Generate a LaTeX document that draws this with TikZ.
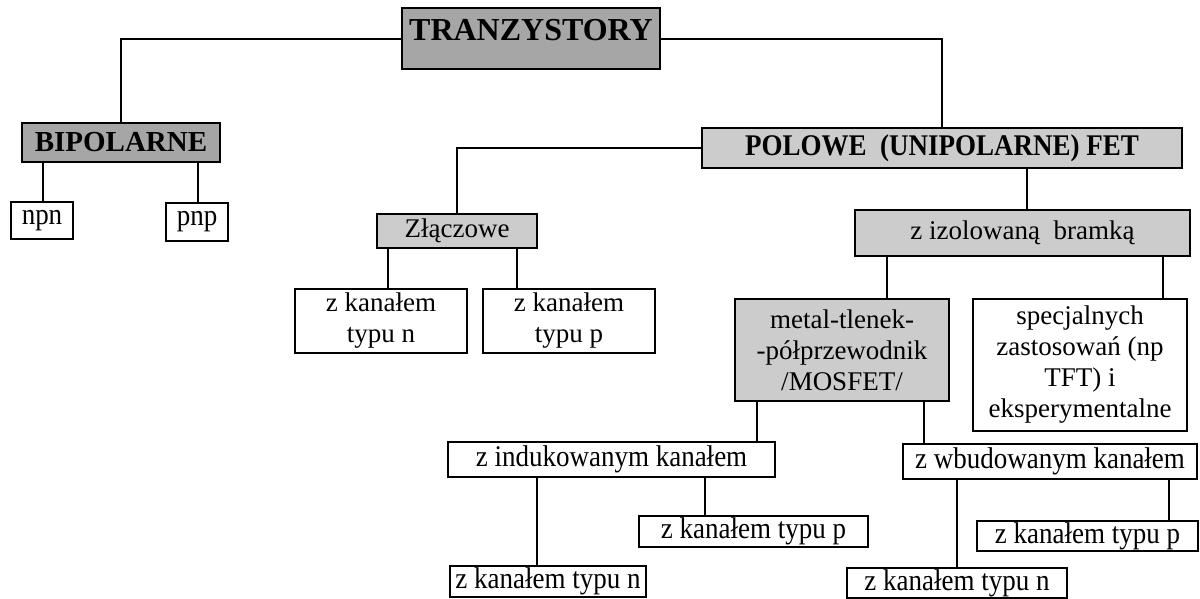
\documentclass[tikz,border=0pt]{standalone}
\usepackage{fontspec}
\setmainfont{Liberation Serif}
\newfontfamily\narrowfont[FakeStretch=0.9]{Liberation Serif}

\begin{document}
\begin{tikzpicture}[
x=1pt, y=-1pt,
box/.style={draw, line width=2pt, inner sep=0pt, align=center},
darkbox/.style={box, fill=black!35},
lightbox/.style={box, fill=black!20},
headfont/.style={font=\fontsize{32}{36}\selectfont\bfseries},
boldfont/.style={font=\fontsize{29}{33}\selectfont\bfseries},
polfont/.style={font=\narrowfont\fontsize{30}{34}\selectfont\bfseries},
plainfont/.style={font=\fontsize{27}{31}\selectfont},
narrowtext/.style={font=\narrowfont\fontsize{30}{34}\selectfont},
link/.style={line width=2pt}
]
\useasboundingbox (0,0) rectangle (1200,598);

% top levels
\node[darkbox, headfont, minimum width=258pt, text height=32pt, text depth=29pt] (tr) at (531,38.5) {TRANZYSTORY};
\node[darkbox, boldfont, minimum width=198pt, minimum height=39pt] (bip) at (121,142.5) {BIPOLARNE};
\node[lightbox, polfont, minimum width=480pt, minimum height=40pt] (pol) at (942,148) {POLOWE~~(UNIPOLARNE) FET};

% bipolar
\node[box, narrowtext, minimum width=62pt, minimum height=37pt] (npn) at (42,220.5) {npn};
\node[box, narrowtext, minimum width=62pt, minimum height=38pt] (pnp) at (197,222) {pnp};

% junction FET
\node[lightbox, plainfont, minimum width=160pt, minimum height=34pt] (zl) at (457,231) {Złączowe};
\node[box, plainfont, minimum width=172pt, minimum height=64pt] (kn) at (381,321) {z kanałem\\typu n};
\node[box, plainfont, minimum width=172pt, minimum height=64pt] (kp) at (569,321) {z kanałem\\typu p};

% insulated gate
\node[lightbox, plainfont, minimum width=335pt, minimum height=46pt] (izol) at (1022.5,233) {z izolowaną~~bramką};
\node[lightbox, plainfont, minimum width=214pt, minimum height=102pt] (mos) at (842,350) {metal-tlenek-\\-półprzewodnik\\/MOSFET/};
\node[box, plainfont, minimum width=214pt, minimum height=132pt] (spec) at (1080,365) {specjalnych\\zastosowań (np\\TFT) i\\eksperymentalne};

% MOSFET kinds
\node[box, narrowtext, minimum width=327pt, minimum height=35pt] (ind) at (611.5,459.5) {z indukowanym kanałem};
\node[box, narrowtext, minimum width=294pt, minimum height=35pt] (wbu) at (1050,461.5) {z wbudowanym kanałem};
\node[box, narrowtext, minimum width=229pt, minimum height=31pt] (indp) at (753.5,531.5) {z kanałem typu p};
\node[box, narrowtext, minimum width=196pt, minimum height=31pt] (indn) at (548,581.5) {z kanałem typu n};
\node[box, narrowtext, minimum width=221pt, minimum height=30pt] (wbup) at (1087.5,536) {z kanałem typu p};
\node[box, narrowtext, minimum width=220pt, minimum height=30pt] (wbun) at (957,583) {z kanałem typu n};

% connectors
\draw[link] (tr.west) -| (bip.north);
\draw[link] (tr.east) -| (pol.north);
\draw[link] (43,0 |- bip.south) -- (43,0 |- npn.north);
\draw[link] (198,0 |- bip.south) -- (198,0 |- pnp.north);
\draw[link] (pol.west) -| (zl.north);
\draw[link] (388,0 |- zl.south) -- (388,0 |- kn.north);
\draw[link] (517,0 |- zl.south) -- (517,0 |- kp.north);
\draw[link] (1027,0 |- pol.south) -- (1027,0 |- izol.north);
\draw[link] (887,0 |- izol.south) -- (887,0 |- mos.north);
\draw[link] (1163,0 |- izol.south) -- (1163,0 |- spec.north);
\draw[link] (757,0 |- mos.south) -- (757,0 |- ind.north);
\draw[link] (924,0 |- mos.south) -- (924,0 |- wbu.north);
\draw[link] (537,0 |- ind.south) -- (537,0 |- indn.north);
\draw[link] (705,0 |- ind.south) -- (705,0 |- indp.north);
\draw[link] (957,0 |- wbu.south) -- (957,0 |- wbun.north);
\draw[link] (1169,0 |- wbu.south) -- (1169,0 |- wbup.north);
\end{tikzpicture}
\end{document}
